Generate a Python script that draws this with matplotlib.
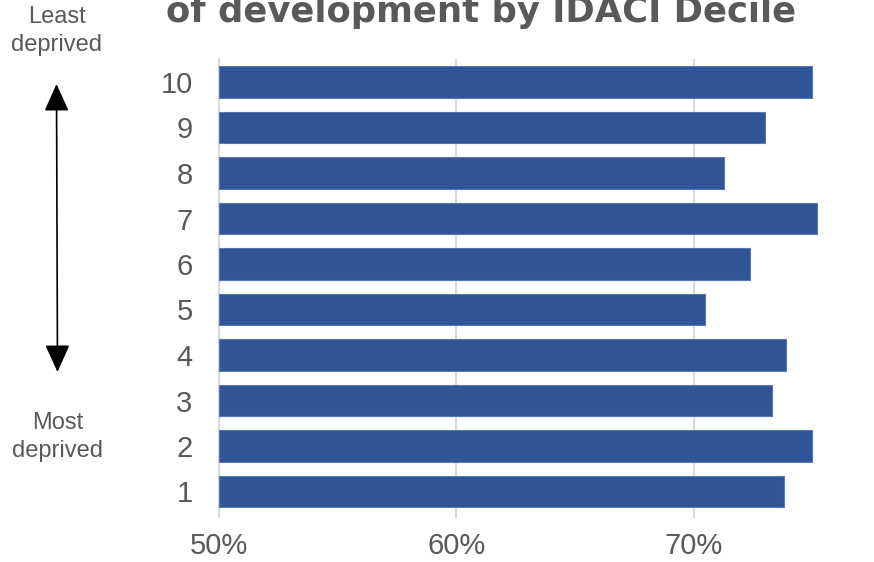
import matplotlib
matplotlib.use("Agg")
import matplotlib.pyplot as plt

# IDACI deciles (1 = most deprived, 10 = least deprived) and share reaching a good level of development
deciles = ["1", "2", "3", "4", "5", "6", "7", "8", "9", "10"]
values = [73.8, 75.0, 73.3, 73.9, 70.5, 72.4, 75.2, 71.3, 73.0, 75.0]
x_ticks = [50, 60, 70]
x_tick_labels = ["50%", "60%", "70%"]
title = "of development by IDACI Decile"

W, H = 874, 562
fig = plt.figure(figsize=(W / 100, H / 100), dpi=100)
plt.rcParams["font.family"] = ["Liberation Sans", "DejaVu Sans"]

text_grey = "#595959"
grid_grey = "#D9D9D9"
bar_blue = "#2F5597"

# axes placement in pixels
left_px, right_px = 219, W
top_px, bottom_px = 59.25, 514.25
ax = fig.add_axes([left_px / W, 1 - bottom_px / H,
                   (right_px - left_px) / W, (bottom_px - top_px) / H])

px_per_pct = 23.725
ax.set_xlim(50, 50 + (right_px - left_px) / px_per_pct)
ax.set_ylim(-0.5, len(deciles) - 0.5)

ypos = range(len(deciles))
ax.barh(list(ypos), [v - 50 for v in values], left=50, height=0.70,
        color=bar_blue, edgecolor="#5878B4", linewidth=0.8, zorder=3)

ax.set_xticks(x_ticks)
ax.set_xticklabels(x_tick_labels)
ax.set_yticks(list(ypos))
ax.set_yticklabels(deciles)
ax.xaxis.grid(True, color=grid_grey, linewidth=1.5, zorder=0)
ax.set_axisbelow(True)

for s in ["top", "right", "bottom"]:
    ax.spines[s].set_visible(False)
ax.spines["left"].set_color(grid_grey)
ax.spines["left"].set_linewidth(1.5)

ax.tick_params(axis="x", length=3, width=1.5, color=grid_grey, pad=10,
               labelsize=21, labelcolor=text_grey)
ax.tick_params(axis="y", length=0, pad=19, labelsize=21, labelcolor=text_grey)

# title (partially off the top of the canvas)
fig.text(166 / W, 1 - 22 / H, title, ha="left", va="baseline",
         fontsize=25.5, fontweight="bold", color=text_grey,
         family=["DejaVu Sans"])

# deprivation direction guide
fig.text(57 / W, 1 - 31 / H, "Least\ndeprived", ha="center", va="center",
         fontsize=17, color=text_grey, linespacing=1.35)
fig.text(58 / W, 1 - 437 / H, "Most\ndeprived", ha="center", va="center",
         fontsize=17, color=text_grey, linespacing=1.35)
fig.patches.append(matplotlib.patches.FancyArrowPatch(
    (57.5 / W, 1 - 372 / H), (56.5 / W, 1 - 84 / H),
    transform=fig.transFigure, arrowstyle="<|-|>,head_length=1.0,head_width=0.45",
    mutation_scale=17, color="black", linewidth=1.2, shrinkA=0, shrinkB=0))

fig.savefig("out.png", dpi=100)
